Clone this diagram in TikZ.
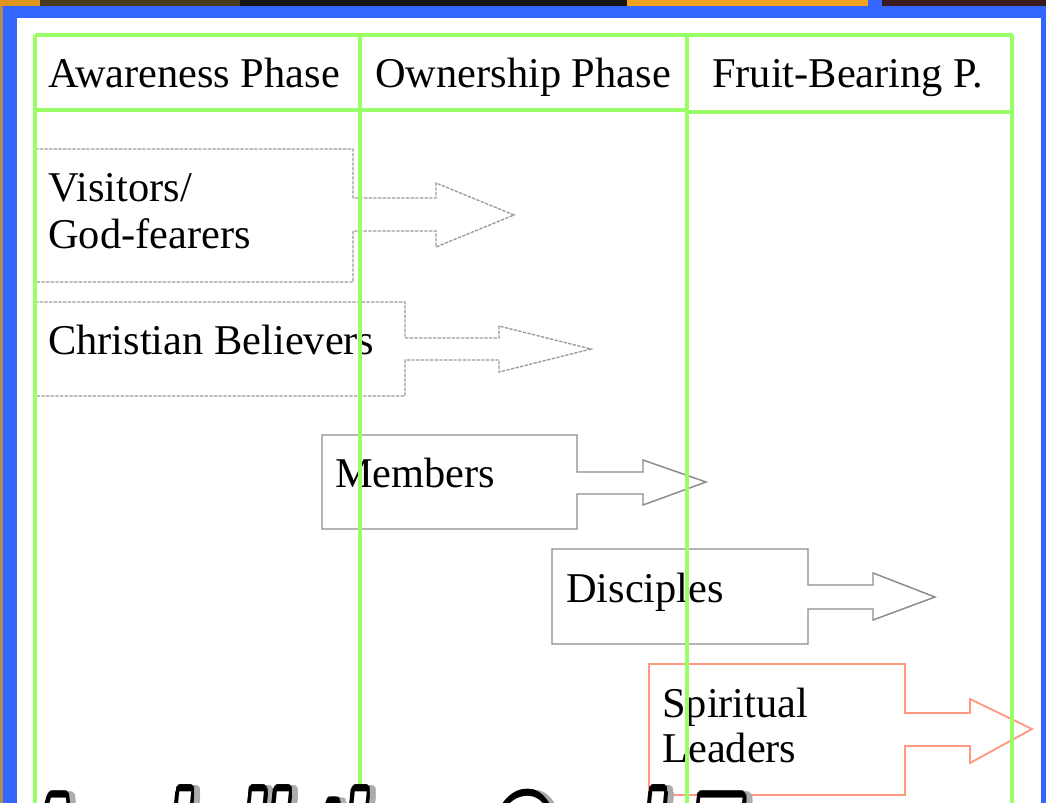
\documentclass[tikz,border=0pt]{standalone}
\usepackage{fontspec}
\setmainfont{Liberation Serif}
\newfontfamily\titlefont{Liberation Sans}
\usepackage{contour}
\contourlength{2.6pt}
\contournumber{20}
\definecolor{gridgreen}{HTML}{99FF66}
\definecolor{frameblue}{HTML}{3366FF}
\definecolor{salmonline}{HTML}{FF9A80}
\definecolor{dashgray}{HTML}{9A9A9A}
\definecolor{solidgray}{HTML}{8C8C8C}
\definecolor{photoA}{HTML}{E0951E}
\definecolor{photoB}{HTML}{4A3A22}
\definecolor{photoC}{HTML}{151515}
\definecolor{photoD}{HTML}{F5A222}
\definecolor{photoE}{HTML}{3A1A1E}
\definecolor{photoF}{HTML}{B08A50}
\newcommand{\slidetitle}{And\hspace{-18pt} all the\hspace{14pt} God Fearers}
\tikzset{
  gridline/.style={draw=gridgreen, line width=2.4pt},
  dashbox/.style={draw=dashgray, line width=1pt, dash pattern=on 2.5pt off 1pt, fill=white},
  solidbox/.style={draw=solidgray, line width=1.1pt, fill=white},
  leaderbox/.style={draw=salmonline, line width=1.4pt, fill=white},
  label/.style={anchor=base west, inner sep=0pt, text=black, font=\fontsize{31.8pt}{36pt}\selectfont},
  hlabel/.style={anchor=base west, inner sep=0pt, text=black, font=\fontsize{31.8pt}{36pt}\selectfont}
}
\begin{document}
\begin{tikzpicture}[x=0.75pt, y=-0.75pt]
\useasboundingbox (0,0) rectangle (1046,803);
% background and frame
\fill[white] (0,0) rectangle (1046,803);
\fill[frameblue] (0,0) rectangle (1046,18);
\fill[frameblue] (0,0) rectangle (17,803);
\fill[frameblue] (1041,0) rectangle (1046,803);
\fill[white] (17,18) rectangle (1041,803);
% photo strip at top
\fill[photoA] (0,0) rectangle (40,6);
\fill[photoB] (40,0) rectangle (240,6);
\fill[photoC] (240,0) rectangle (627,6);
\fill[photoD] (627,0) rectangle (868,6);
\fill[photoE] (882,0) rectangle (1046,6);
\fill[photoF] (0,6) rectangle (3,803);

% arrow boxes
\draw[dashbox] (35,149) -- (353,149) -- (353,198) -- (436,198) -- (436,183) -- (514,215)
  -- (436,247) -- (436,231) -- (353,231) -- (353,282) -- (35,282) -- cycle;
\draw[dashbox] (35,302) -- (405,302) -- (405,338) -- (499,338) -- (499,326) -- (591,349)
  -- (499,372) -- (499,360) -- (405,360) -- (405,396) -- (35,396) -- cycle;
\draw[solidbox] (322,435) -- (577,435) -- (577,472) -- (643,472) -- (643,460) -- (706,482)
  -- (643,505) -- (643,494) -- (577,494) -- (577,529) -- (322,529) -- cycle;
\draw[solidbox] (552,549) -- (808,549) -- (808,585) -- (873,585) -- (873,573) -- (935,597)
  -- (873,620) -- (873,609) -- (808,609) -- (808,644) -- (552,644) -- cycle;
\draw[leaderbox] (649,664) -- (905,664) -- (905,713) -- (970,713) -- (970,699) -- (1032,729)
  -- (970,763) -- (970,746) -- (905,746) -- (905,795) -- (649,795) -- cycle;

% labels
\node[label] (visitors) at (48,201) {Visitors/};
\node[label] (godfearers) at (48,248) {God-fearers};
\node[label] (believers) at (48,354) {Christian Believers};
\node[label] (members) at (335,487) {Members};
\node[label] (disciples) at (566,602) {Disciples};
\node[label] (spiritual) at (662,717) {Spiritual};
\node[label] (leaders) at (662,762) {Leaders};

% green grid on top
\draw[gridline, line width=3.4pt] (35,35) -- (1013,35);
\draw[gridline] (35,35) -- (35,803);
\draw[gridline] (360,35) -- (360,803);
\draw[gridline] (687,35) -- (687,803);
\draw[gridline] (1012,35) -- (1012,803);
\draw[gridline] (35,110) -- (687,110);
\draw[gridline] (687,112) -- (1012,112);

% header labels
\node[hlabel] (hA) at (48,87) {Awareness Phase};
\node[hlabel] (hO) at (375,87) {Ownership Phase};
\node[hlabel] (hF) at (712,87) {Fruit-Bearing P.};

% clipped slide title at the bottom (only the tops of its tall letters show)
\begin{scope}
\clip (17,18) rectangle (1041,803);
\node[anchor=base west, inner sep=0pt, text=gray!65] (titleshadow) at (25,916)
  {\titlefont\bfseries\itshape\fontsize{64pt}{70pt}\selectfont\scalebox{1.03}[2.0]{\contour{gray!65}{\slidetitle}}};
\node[anchor=base west, inner sep=0pt] (title) at (19,915)
  {\titlefont\bfseries\itshape\fontsize{64pt}{70pt}\selectfont\scalebox{1.03}[2.0]{\contour{black}{\textcolor{white}{\slidetitle}}}};
\end{scope}
\end{tikzpicture}
\end{document}
